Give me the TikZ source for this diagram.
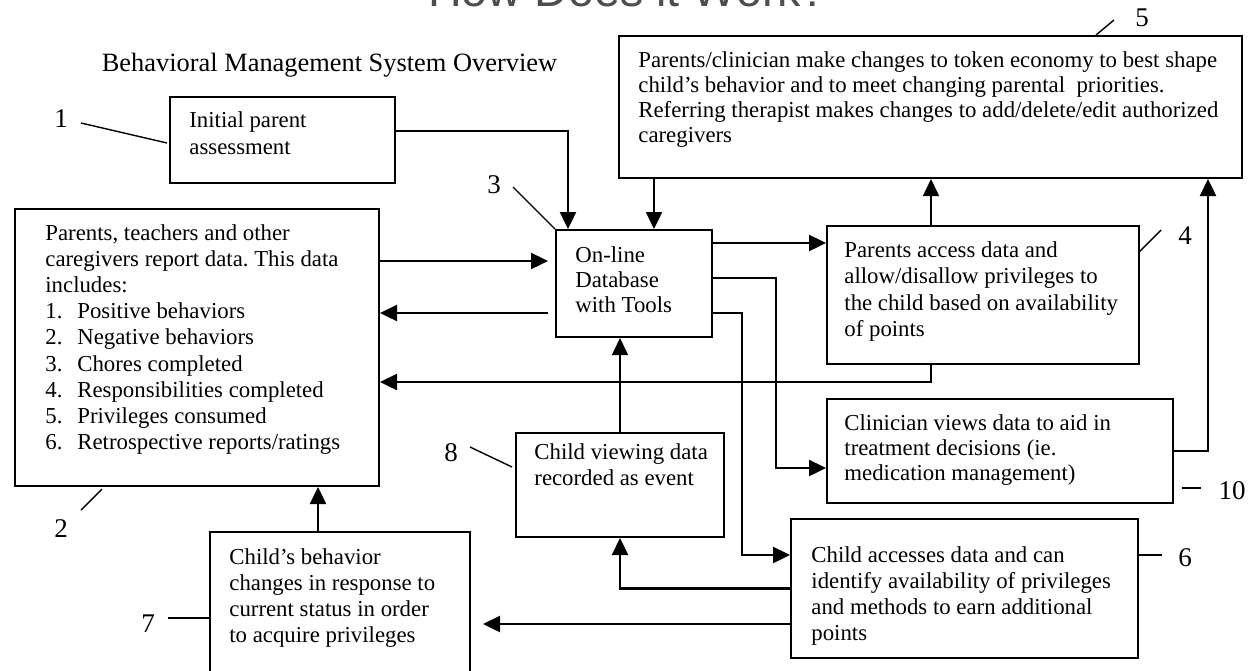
\documentclass[tikz,border=0pt]{standalone}
\usepackage{fontspec}
\setmainfont{Liberation Serif}
\newfontfamily\titlefont{Liberation Sans}
\usetikzlibrary{arrows.meta,calc,fit}
\definecolor{titlegray}{HTML}{4D4D4D}
\frenchspacing
\newcommand{\boxlines}[2]{{\fontsize{11.4}{#1}\selectfont\begin{tabular}[t]{@{}l@{}}#2\end{tabular}}}
\begin{document}
\begin{tikzpicture}[x=0.5pt,y=-0.5pt,
  bx/.style={draw=black,line width=1pt,inner sep=0pt,fill=white},
  txt/.style={inner sep=0pt,anchor=base west},
  lab/.style={inner sep=0pt,anchor=base,font=\fontsize{13.5}{15}\selectfont},
  conn/.style={line width=1.2pt},
  thinconn/.style={line width=0.8pt},
  arr/.style={-{Triangle[length=8.5pt,width=8pt]}},
  lead/.style={line width=0.7pt},
]
\useasboundingbox (0,0) rectangle (1257,670);
\clip (0,0) rectangle (1257,670);

% title and heading
\node[inner sep=0pt,anchor=base,text=titlegray,font=\titlefont\fontsize{23.35}{28}\selectfont] (title) at (627.5,6) {How Does it Work?};
\node[inner sep=0pt,anchor=base,font=\fontsize{13.2}{15}\selectfont] (head) at (329.5,71) {Behavioral Management System Overview};

% boxes
\node[bx,fit={(170,97) (395,183)}] (b1) {};
\node[bx,fit={(15,209) (379,486)}] (b2) {};
\node[bx,fit={(556,230) (712,337)}] (db) {};
\node[bx,fit={(827,226) (1139,364)}] (b4) {};
\node[bx,fit={(619,36) (1242,178)}] (b5) {};
\node[bx,fit={(827,399) (1173,503)}] (b10) {};
\node[bx,fit={(516,433) (724,537)}] (b8) {};
\node[bx,fit={(791,519) (1138,658)}] (b6) {};
\node[bx,fit={(210,532) (470,700)}] (b7) {};

% box texts
\node[txt] (t1) at (189,127) {\boxlines{13.5pt}{Initial parent\\assessment}};
\node[txt] (t2) at (45,240) {{\fontsize{11.4}{13.1pt}\selectfont\begin{tabular}[t]{@{}p{16pt}@{}l@{}}
\multicolumn{2}{@{}l@{}}{Parents, teachers and other}\\
\multicolumn{2}{@{}l@{}}{caregivers report data. This data}\\
\multicolumn{2}{@{}l@{}}{includes:}\\
1. & Positive behaviors\\
2. & Negative behaviors\\
3. & Chores completed\\
4. & Responsibilities completed\\
5. & Privileges consumed\\
6. & Retrospective reports/ratings
\end{tabular}}};
\node[txt] (tdb) at (575,262) {\boxlines{12.5pt}{On-line\\Database\\with Tools}};
\node[txt] (t4) at (844,257) {\boxlines{13.3pt}{Parents access data and\\allow/disallow privileges to\\the child based on availability\\of points}};
\node[txt] (t5) at (638,67) {\boxlines{12.5pt}{Parents/clinician make changes to token economy to best shape\\child’s behavior and to meet changing parental\ \ priorities.\\Referring therapist makes changes to add/delete/edit authorized\\caregivers}};
\node[txt] (t10) at (844,430) {\boxlines{12.5pt}{Clinician views data to aid in\\treatment decisions (ie.\\medication management)}};
\node[txt] (t8) at (534,459) {\boxlines{13pt}{Child viewing data\\recorded as event}};
\node[txt] (t6) at (811,562) {\boxlines{13pt}{Child accesses data and can\\identify availability of privileges\\and methods to earn additional\\points}};
\node[txt] (t7) at (229,564) {\boxlines{13pt}{Child’s behavior\\changes in response to\\current status in order\\to acquire privileges}};

% number labels
\node[lab] (lab1) at (61,127) {1};
\node[lab] (lab2) at (61,537) {2};
\node[lab] (lab3) at (494,193) {3};
\node[lab] (lab4) at (1185,244) {4};
\node[lab] (lab5) at (1142,26) {5};
\node[lab] (lab6) at (1185,566) {6};
\node[lab] (lab7) at (148,632) {7};
\node[lab] (lab8) at (451,461) {8};
\node[lab] (lab10) at (1232,499) {10};

% leader lines
\draw[lead] (81,123) -- (167,143);
\draw[lead] (102,489) -- (81,510);
\draw[lead] (513,187) -- (db.north west);
\draw[lead] (1139,252) -- (1161,230);
\draw[lead] (1096,35) -- (1114,20);
\draw[lead] (b6.east |- 0,555) -- (1162,555);
\draw[lead] (168,618) -- (b7.west |- 0,618);
\draw[lead] (470,447) -- (512,467);
\draw[lead] (1182,488) -- (1201,488);

% connectors
\draw[conn,arr] ($(b1.east)+(0,-9)$) -| ($(db.north)+(-66,0)$);
\coordinate (dbT2) at ($(db.north)+(20,0)$);
\draw[conn,arr] (dbT2 |- b5.south) -- (dbT2);
\coordinate (dbL1) at ($(db.west)+(0,-22.5)$);
\draw[conn,arr,shorten >=3.5pt] (dbL1 -| b2.east) -- (dbL1);
\coordinate (dbL2) at ($(db.west)+(0,29.5)$);
\draw[conn,arr,shorten <=3.5pt] (dbL2) -- (dbL2 -| b2.east);
\draw[conn,arr] ($(b4.south)+(-52,0)$) |- ($(b2.east)+(0,34.5)$);
\coordinate (b4T) at ($(b4.north)+(-52,0)$);
\draw[thinconn,arr] (b4T) -- (b4T |- b5.south);
\coordinate (dbR1) at ($(db.east)+(0,-40.5)$);
\draw[conn,arr] (dbR1) -- (dbR1 -| b4.west);
\draw[conn,arr] ($(db.east)+(0,-5.5)$) -- ++(63,0) |- ($(b10.west)+(0,17)$);
\draw[conn,arr] ($(db.east)+(0,29.5)$) -- ++(29,0) |- ($(b6.west)+(0,-33.5)$);
\draw[conn,arr] (b10.east) -| ($(b5.south)+(277.5,0)$);
\draw[thinconn,arr] (b8.north) -- (b8.north |- db.south);
\draw[conn,arr] (b6.west) -| (b8.south);
\coordinate (b6L2) at ($(b6.west)+(0,35.5)$);
\draw[conn,arr,shorten >=6pt] (b6L2) -- (b6L2 -| b7.east);
\coordinate (b7T) at ($(b7.north)+(-22,0)$);
\draw[conn,arr] (b7T) -- (b7T |- b2.south);
\end{tikzpicture}
\end{document}
